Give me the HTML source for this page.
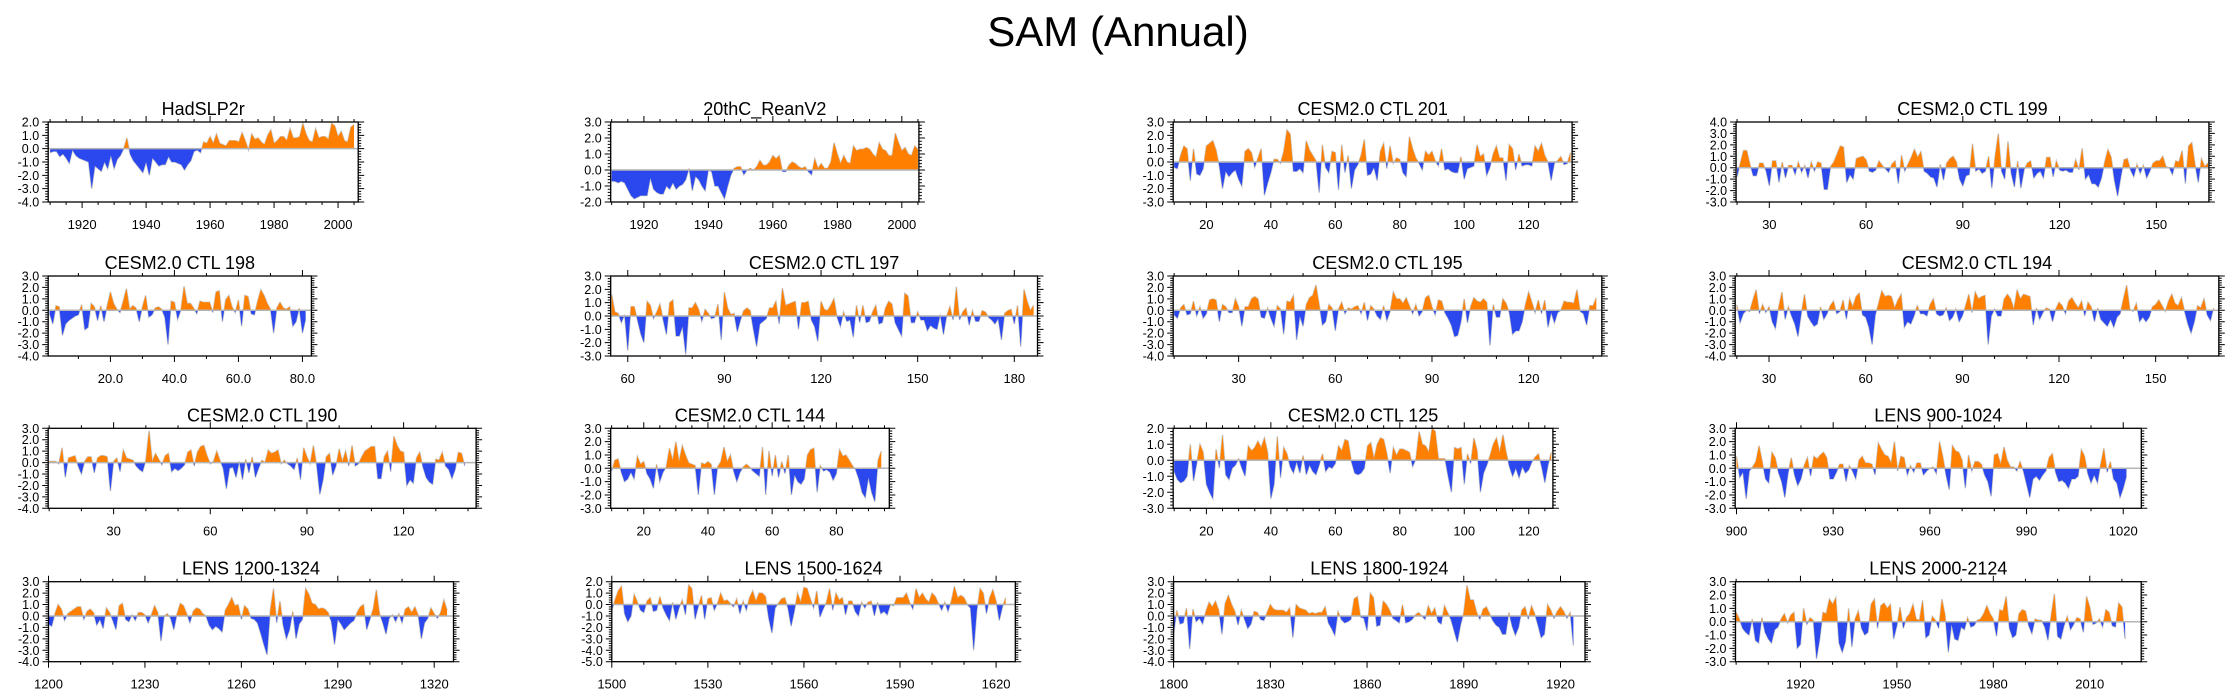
<!DOCTYPE html>
<html>
<head>
<meta charset="utf-8">
<style>
html,body{margin:0;padding:0;background:#fff;}
svg{display:block;font-family:"Liberation Sans",Arial,sans-serif;}
</style>
</head>
<body>
<svg id="fig" width="2237" height="698" viewBox="0 0 2237 698" xmlns="http://www.w3.org/2000/svg">
<rect width="2237" height="698" fill="#fff"/>
<text x="1118" y="46" font-size="42" text-anchor="middle" fill="#000">SAM (Annual)</text>
</svg>
<script>
// ---- data: start index + values per panel ----
const hadslpStart = 1910;
const hadslpValues = [-0.3,-0.2,-0.2,-0.6,-0.4,-0.7,-1.1,-0.1,-0.5,-0.7,-0.8,-0.9,-1.0,-3.0,-1.3,-1.5,-1.7,-1.0,-1.5,-0.5,-1.5,-0.8,-0.5,0.0,0.8,-0.4,-0.9,-1.2,-1.5,-1.8,-1.0,-2.0,-0.7,-1.0,-1.3,-1.2,-1.2,-0.6,-1.0,-1.0,-1.1,-1.2,-1.6,-1.2,-0.9,-0.2,-0.1,-0.3,0.5,0.4,0.9,0.4,1.1,0.4,0.3,0.2,0.6,0.6,0.6,0.5,1.2,0.6,-0.1,1.1,0.7,0.8,0.5,0.3,1.0,1.4,0.4,0.6,0.9,0.9,0.6,1.5,0.8,0.8,0.9,1.9,1.1,0.6,0.5,1.5,0.8,0.9,0.9,0.7,1.9,1.7,0.9,1.3,0.6,0.5,1.6,1.8];
const reanStart = 1910;
const reanValues = [-0.7,-0.7,-0.8,-0.7,-0.8,-1.2,-1.6,-1.8,-1.7,-1.6,-1.6,-1.6,-0.5,-1.2,-1.4,-1.5,-1.5,-1.0,-1.2,-0.8,-1.2,-1.0,-0.9,-0.6,0.1,-1.3,-0.4,-0.6,-1.0,-1.3,0.0,-0.1,-1.0,-1.0,-1.4,-1.8,-1.0,-0.3,0.1,0.2,0.2,-0.3,0.0,0.1,0.0,0.2,0.6,0.3,0.3,0.5,0.9,0.7,0.9,-0.1,-0.1,0.3,0.5,0.4,0.2,0.1,0.2,-0.1,-0.3,0.7,0.1,0.4,0.1,0.1,0.5,1.7,1.0,0.4,0.9,0.5,0.4,1.5,1.2,1.3,1.3,1.4,1.3,1.0,0.8,1.7,1.3,1.2,0.9,0.9,2.3,1.7,1.2,1.4,1.0,0.9,1.5,1.3];
const ctl201Start = 10;
const ctl201Values = [-0.4,-0.5,0.5,1.2,1.0,-1.4,1.0,-0.9,-1.0,-0.5,1.2,1.4,1.6,0.9,-0.3,-2.0,-0.7,-1.1,-0.8,-0.6,-1.3,-1.8,0.8,1.0,0.7,-0.4,0.3,1.0,-2.5,-1.6,-0.8,0.2,0.2,-0.1,0.8,2.4,2.1,-0.7,-0.7,-0.5,-0.8,1.6,0.9,0.5,0.1,-2.3,1.3,-0.4,-0.8,0.8,0.7,-2.1,1.3,-0.8,0.5,-2.0,-0.6,-0.2,0.5,1.7,-1.0,-0.9,-0.4,-1.4,0.8,1.4,-0.5,1.2,-0.1,0.3,0.2,-0.8,-1.1,1.9,1.0,0.3,-0.1,-0.6,0.8,0.5,0.8,0.1,-0.3,1.0,-0.6,-0.5,-0.7,-0.8,-0.8,0.4,-1.3,-0.5,-0.4,-0.3,1.3,0.4,0.6,-1.0,-0.4,0.6,1.2,0.3,0.3,-1.4,1.3,1.0,-0.6,0.6,-0.3,-0.2,-0.2,-0.3,1.2,0.8,1.4,0.5,0.0,-1.4,-0.1,0.1,0.4,-0.2,-0.1,0.7];
const ctl199Start = 20;
const ctl199Values = [-0.8,0.4,1.5,1.5,0.3,-0.7,-0.7,0.4,0.4,-0.3,-1.6,0.6,0.6,-1.3,0.5,-0.9,0.2,0.2,-0.6,0.5,-0.4,0.2,-0.9,0.5,-0.3,0.5,0.4,-1.9,-1.9,0.1,0.5,1.2,1.9,1.8,-1.3,-0.6,-1.0,0.8,0.9,1.0,0.7,-0.3,-0.4,-0.2,0.6,0.2,-0.1,-0.4,0.3,0.6,-1.4,1.1,-0.3,0.3,0.9,1.6,0.9,1.4,-0.3,-0.5,-0.8,-0.9,-1.7,0.3,-1.1,0.4,0.8,1.0,0.5,-1.0,-1.6,-0.7,-0.6,2.1,-0.3,-0.1,-0.5,-0.3,1.0,-1.8,1.0,3.0,-0.3,-1.0,2.3,-0.5,-1.7,0.6,-1.8,-0.2,0.4,0.6,-0.9,-0.5,-0.3,-0.9,0.9,0.9,-0.8,0.6,-0.2,-0.3,-0.2,-0.4,-0.4,0.7,-0.2,1.7,-1.0,-0.6,-1.4,-1.4,-1.7,-0.9,0.5,1.6,0.9,-1.1,-2.5,-0.8,0.7,0.8,-0.2,-0.8,0.3,-0.5,0.2,-0.9,-0.3,0.4,0.6,0.6,1.0,0.1,0.0,-0.6,0.6,0.5,1.5,-1.4,1.9,2.2,0.3,-1.3,0.8,0.1,0.4];
const ctl198Start = 1;
const ctl198Values = [-0.3,-1.2,0.4,0.3,-2.2,-1.2,-0.9,-0.7,-0.5,-0.4,0.5,-1.7,-1.5,0.6,0.3,-0.9,0.4,-1.0,0.4,1.6,0.6,0.1,-0.2,0.8,1.9,0.1,0.4,0.2,-1.0,0.3,1.3,-0.6,-0.4,0.2,0.3,0.1,-0.6,-3.0,0.8,0.7,-0.8,0.0,2.1,0.6,0.6,0.2,-0.3,0.8,0.7,0.7,0.7,-0.2,1.6,1.7,-1.0,0.9,1.3,0.3,-0.2,0.9,-1.4,1.3,1.2,-0.3,-0.4,0.8,1.8,1.3,0.6,0.1,-2.0,0.2,0.7,0.2,0.1,0.3,-1.4,-1.0,0.2,-2.0,-0.8];
const ctl197Start = 55;
const ctl197Values = [1.6,0.3,0.2,-0.5,0.1,-2.6,0.7,0.7,-0.3,-1.3,-2.0,1.1,0.8,-0.2,0.3,0.9,-0.3,-1.4,1.0,1.2,-1.5,-1.5,-0.8,-2.9,0.6,0.6,1.0,0.5,-0.4,0.5,0.2,-0.2,-0.1,0.9,-1.8,1.8,0.6,0.1,0.2,-1.2,-0.3,0.4,0.6,0.4,-1.0,-2.3,-0.6,-0.4,-0.2,0.6,0.6,1.1,-0.6,2.1,0.8,0.9,1.0,1.1,-1.0,1.0,1.0,1.1,-0.3,-0.8,-1.9,1.1,0.5,0.4,0.8,1.3,-0.1,-0.8,0.3,-0.4,-0.3,-1.6,0.8,-0.5,0.8,-0.5,-0.4,0.3,0.8,-0.6,-0.5,0.6,1.1,0.9,-0.5,-1.0,-1.5,1.7,1.5,-0.5,-0.5,0.3,-0.3,-0.3,-1.1,-0.7,-0.9,-1.0,0.1,-1.4,0.0,0.7,-0.3,2.2,-0.3,0.3,0.6,-0.7,0.4,-0.4,-0.4,0.4,0.3,-0.1,-0.3,-0.6,-0.2,-1.8,0.2,0.4,0.5,-0.6,0.8,-2.3,2.0,1.1,0.4,0.8];
const ctl195Start = 10;
const ctl195Values = [-0.4,-0.7,0.2,0.5,-0.4,-0.3,0.8,-0.5,0.3,-0.7,-0.3,0.9,1.0,0.9,-1.0,0.5,0.3,-0.2,-0.2,1.0,0.3,-1.4,0.3,0.3,1.0,1.2,1.0,-0.6,-0.7,0.2,-0.7,-1.4,0.4,0.1,-2.1,0.8,0.7,1.3,-2.6,-0.5,-1.4,0.5,1.1,1.3,2.2,0.5,-1.3,-1.0,0.5,0.2,-1.8,0.1,0.7,-0.3,0.2,0.1,0.3,0.4,-0.3,0.7,-0.9,0.4,0.1,-0.5,-0.8,0.4,-0.9,-0.1,1.6,1.0,1.0,0.6,1.1,0.4,-0.3,0.5,-0.5,-0.1,1.1,1.3,0.3,-0.4,0.9,0.8,-0.2,-0.7,-1.3,-2.3,-2.2,-1.0,1.0,-1.1,0.3,1.1,0.8,0.7,1.0,0.7,-3.1,0.5,-0.6,-0.6,1.0,0.6,-0.2,-2.1,-1.8,-1.8,-1.0,0.5,1.6,0.7,-0.2,0.9,-0.3,0.9,-1.5,-0.2,-1.1,-0.2,0.0,0.8,0.7,0.7,0.6,1.8,-0.1,-0.3,-1.3,0.4,0.4,1.1];
const ctl194Start = 20;
const ctl194Values = [0.5,-1.1,-0.3,0.0,-0.1,0.9,1.8,-0.3,0.5,-0.2,0.3,-1.0,-1.6,0.3,1.6,-0.8,0.3,-0.5,-1.2,-2.3,-0.3,1.4,-0.5,-1.0,-1.4,-1.2,0.3,-0.8,-0.3,0.4,0.8,-0.3,-0.1,0.9,-0.8,1.0,0.3,1.2,1.5,-0.4,-0.6,-1.5,-3.0,-0.4,0.6,1.7,1.2,1.3,1.2,0.2,0.9,1.4,-1.5,-1.0,-1.2,-0.5,0.4,-0.3,-0.3,-0.5,0.5,1.0,-0.3,-0.5,-0.4,0.2,-0.9,-0.6,0.1,-1.0,-0.5,0.4,1.4,-0.2,1.6,1.0,1.2,1.3,-3.0,-0.5,0.1,-0.5,-0.5,1.0,1.4,1.0,0.1,1.8,1.0,1.4,1.3,1.2,-1.3,0.2,-0.8,-0.2,0.2,0.1,-1.0,0.1,0.7,0.4,-0.3,0.8,1.1,0.6,0.2,0.8,-0.5,0.7,0.3,-1.0,0.2,-0.8,-1.1,-1.4,-0.8,-1.5,-0.6,-0.3,1.0,2.2,0.1,-0.1,0.6,-1.0,-0.6,-1.0,-0.6,0.3,0.5,0.9,0.4,-0.1,0.8,1.4,0.6,0.4,1.1,-0.1,-1.2,-2.0,-1.0,0.4,0.2,1.0,-0.4,-0.9,0.2];
const ctl190Start = 10;
const ctl190Values = [0.1,0.1,0.1,-0.1,1.3,-1.3,0.4,0.5,0.6,-0.3,-1.0,0.1,0.5,0.5,-0.9,0.4,0.6,0.6,0.5,-2.5,0.1,0.4,-0.8,1.1,0.4,0.3,0.2,-0.3,-0.6,-0.8,0.2,2.8,0.1,0.8,0.3,-0.2,0.6,0.8,-0.8,-0.5,-0.7,-0.5,-0.2,0.9,1.1,-0.3,0.9,1.4,1.5,0.6,-0.1,0.1,1.0,0.2,-0.5,-2.3,-0.5,-0.4,-1.3,0.1,-1.5,0.3,-0.9,0.5,-1.3,-0.5,0.2,0.0,1.1,0.8,0.9,1.1,-0.1,0.2,-0.1,-0.3,-0.6,0.4,-1.5,1.3,0.5,-0.1,1.5,-0.2,-2.8,-1.5,0.5,0.8,-1.1,-0.3,1.2,0.1,1.0,-0.3,1.5,-0.3,-0.1,0.5,1.0,1.2,1.4,1.4,-1.4,-1.4,0.5,1.0,-0.8,2.3,1.5,1.0,0.9,-2.0,-1.5,-1.8,0.4,0.9,-0.4,-1.3,-1.7,-1.9,0.3,0.2,0.9,-0.3,-0.6,-1.4,-0.6,0.9,0.8,-0.3];
const ctl144Start = 10;
const ctl144Values = [-0.2,0.6,0.7,-0.3,-1.0,-0.8,-0.3,-0.8,0.9,0.3,0.5,-0.4,-0.8,-1.5,0.3,-1.0,-0.3,0.1,1.5,0.6,2.0,0.5,1.7,1.0,0.4,0.3,0.2,-2.0,0.4,0.3,0.5,0.3,-2.0,0.1,0.5,1.6,0.5,1.0,-0.2,-1.0,-0.3,0.1,0.3,0.1,-0.2,-0.4,-0.6,1.6,-2.0,1.3,-0.6,1.0,-0.7,0.5,-0.4,1.0,-2.0,-0.5,-1.0,-1.2,-0.8,1.0,1.4,1.5,-1.8,0.2,-0.2,-0.1,-0.3,-0.9,-0.4,1.4,0.9,1.0,0.6,0.2,-0.1,-0.8,-1.8,-2.2,-0.7,-1.8,-2.5,0.6,1.3];
const ctl125Start = 10;
const ctl125Values = [-0.7,-1.2,-1.4,-1.3,-1.0,1.0,-1.3,-0.2,1.0,0.5,-1.5,-2.0,-2.4,0.7,-0.5,1.6,-0.9,-1.2,-0.5,-0.3,0.1,-0.5,-1.0,0.9,0.6,0.8,1.2,0.8,1.4,0.5,-2.4,-1.5,1.5,-1.1,0.8,0.4,-0.4,-0.8,-0.1,-0.8,0.3,-0.9,-0.3,-0.7,-0.9,-0.3,0.4,-0.7,-0.4,-0.5,-0.2,0.9,0.6,1.3,1.2,-0.1,-0.8,-0.9,-0.8,-0.5,0.9,1.1,0.1,1.0,1.4,1.3,0.4,-0.8,0.8,0.3,0.7,0.7,0.6,0.5,-0.4,0.1,1.8,1.0,0.9,0.5,2.0,1.8,0.1,0.1,0.1,-1.0,-2.0,0.8,0.7,0.8,-1.5,0.4,-0.2,1.4,0.6,-2.0,-0.8,-0.3,0.3,1.0,1.4,0.5,1.6,0.5,-0.4,-1.0,-0.5,-1.1,-0.4,-0.8,-0.6,-0.1,0.2,0.4,-0.4,-1.4,-0.3,0.5];
const lens900Start = 900;
const lens900Values = [0.9,-0.7,-0.3,-2.3,-0.2,0.1,0.5,1.7,0.5,-0.8,-1.1,1.2,0.8,-0.3,-1.0,-2.2,-0.4,0.8,-0.5,-1.3,-0.8,0.2,0.8,-0.6,0.9,0.7,1.0,1.2,0.8,-0.8,-0.8,-0.3,0.3,0.3,-1.0,0.2,-0.2,-0.8,0.6,0.9,0.4,0.4,0.3,-0.5,1.9,1.4,1.0,0.9,0.4,2.0,-0.2,0.9,0.8,-0.5,0.2,-0.3,0.4,0.4,-0.5,-0.2,0.0,0.1,-0.4,2.0,0.9,-0.5,-1.6,1.7,1.3,1.2,0.6,-1.5,1.0,-0.2,0.5,0.5,0.3,-0.5,-1.0,-2.1,1.0,1.1,0.3,1.6,0.6,0.1,0.1,-0.2,0.5,-0.2,-1.2,-2.2,-0.8,-0.6,-0.9,-0.5,-0.2,0.8,1.1,-0.3,-1.0,-0.9,-1.1,-1.5,-0.8,-0.8,-0.6,1.4,0.9,-0.4,-1.1,-0.5,-1.1,0.3,1.5,-0.3,0.5,-0.8,-1.1,-2.2,-1.5,-0.6];
const lens1200Start = 1200;
const lens1200Values = [-0.7,-0.9,0.2,1.0,0.6,-0.4,0.2,0.4,0.6,0.8,0.8,-0.3,0.4,0.6,0.3,-0.8,-0.3,-1.1,0.7,0.3,-0.4,-1.2,0.9,1.1,-0.3,-0.5,0.1,-0.4,0.3,0.3,0.1,-0.6,0.1,0.9,0.3,-2.2,0.0,0.2,-0.2,-1.2,0.2,1.1,0.9,0.2,-0.6,0.4,0.7,0.6,0.2,0.0,-0.8,-1.2,-0.9,-1.1,-1.4,0.5,1.0,1.6,0.9,1.0,-0.3,0.9,0.6,-0.2,-0.3,-0.6,-1.5,-2.5,-3.4,0.5,2.4,-0.6,1.3,-0.8,-2.0,-1.2,0.4,-2.0,-0.7,-0.3,2.4,1.9,1.1,1.0,0.6,0.7,0.6,0.3,-0.5,-2.5,-0.3,-0.7,-1.2,-0.9,-0.6,-0.4,0.3,0.8,1.0,-1.2,-0.3,0.6,2.3,0.2,-0.6,-1.6,-0.2,0.1,-0.5,0.2,-0.6,0.6,0.8,0.3,0.8,0.1,-2.0,-0.6,-0.2,0.7,0.2,-0.2,0.3,1.4,0.5];
const lens1500Start = 1500;
const lens1500Values = [-0.5,0.4,1.2,1.6,-0.8,-1.5,-1.0,0.9,0.2,-0.5,-0.7,0.3,0.6,-0.6,-0.5,0.7,-0.3,-0.9,-1.4,0.2,-1.3,-0.3,0.4,-0.9,1.7,1.4,-1.3,-0.2,0.8,-1.3,0.5,0.6,-0.5,0.1,1.0,0.3,0.4,0.1,-0.2,0.5,-0.8,0.3,-0.5,0.6,1.2,0.3,1.0,1.0,0.7,-1.2,-2.5,-0.3,0.1,0.5,0.6,-0.3,-1.9,-0.6,1.0,0.2,1.5,1.4,0.5,-0.3,1.2,-1.1,-0.4,0.2,1.4,-0.5,1.0,0.4,0.6,-0.9,0.3,0.3,-0.6,-1.0,0.2,-0.3,0.2,0.3,-1.0,0.2,-0.8,-0.6,-0.9,0.0,-0.1,0.6,0.6,0.6,1.0,0.2,-0.4,1.4,0.6,1.0,0.5,0.2,1.0,0.7,0.1,-0.5,0.2,-0.6,0.3,1.6,0.6,0.8,0.6,0.0,-0.3,-4.0,-0.5,1.4,1.0,-0.8,0.6,1.3,0.3,-1.4,-0.2,0.6];
const lens1800Start = 1800;
const lens1800Values = [-1.6,0.5,-0.7,-0.6,0.7,-2.9,0.6,-0.5,-0.2,-0.7,0.4,1.2,0.8,1.3,0.5,-1.6,1.1,1.8,1.0,0.4,-0.8,0.5,-0.3,-1.1,-0.7,0.4,0.3,-0.3,-0.4,0.3,1.0,0.6,0.5,0.5,0.5,0.3,0.7,-1.9,1.0,0.7,0.6,0.5,0.2,0.3,0.2,0.3,0.3,0.8,-0.6,-1.1,-1.7,0.4,-0.3,-0.6,-0.5,-0.3,1.5,1.7,-0.1,-0.2,-1.3,2.0,1.6,-0.9,-0.8,1.3,1.0,0.5,-0.2,-0.4,-0.6,1.0,-0.6,-0.5,-0.3,0.1,0.3,0.0,-0.3,0.9,0.2,0.7,-0.5,-0.7,0.9,0.3,-0.3,-1.3,-2.3,-0.8,0.3,2.7,1.4,1.4,0.3,-0.3,0.6,0.8,0.2,-0.4,-0.8,-1.0,-1.6,-1.6,0.3,-0.9,-1.7,-1.0,0.5,0.8,-0.3,0.9,0.2,-0.8,-1.9,-1.6,1.0,0.5,-0.2,0.4,0.8,0.4,-0.2,0.3,-2.6];
const lens2000Start = 1900;
const lens2000Values = [0.7,0.2,-0.5,-0.8,-1.0,0.2,-1.4,-1.6,0.3,-0.8,-1.3,-1.6,-0.6,-0.4,0.2,0.6,-0.1,0.5,0.7,-2.0,-1.7,1.0,-0.2,0.3,0.1,-2.8,-1.3,0.7,0.6,1.7,1.3,1.8,-1.6,-2.3,-1.5,1.0,-1.9,0.2,0.8,-0.5,-1.0,-0.8,1.3,1.7,-0.5,1.2,1.4,1.0,1.3,-1.3,-0.3,1.1,-0.5,0.3,0.6,1.3,0.2,0.1,1.6,-1.2,-1.0,0.4,0.1,-0.5,1.7,0.5,-2.3,-0.2,-1.3,-1.4,-0.4,-0.6,0.3,-0.4,-0.3,0.1,0.2,0.6,1.2,0.6,0.2,-1.1,0.9,0.8,1.9,-0.5,-1.2,-1.0,0.6,0.9,0.8,-0.3,-0.9,0.2,0.1,0.1,-0.4,-1.4,0.5,2.1,-1.1,-1.3,-0.3,0.4,-0.6,-0.2,0.3,0.2,-0.8,1.9,1.1,-0.2,-0.1,0.2,-0.4,0.9,0.7,-0.3,-0.4,1.4,1.1,-1.3];

const panelTitles = ["HadSLP2r","20thC_ReanV2","CESM2.0 CTL 201","CESM2.0 CTL 199","CESM2.0 CTL 198","CESM2.0 CTL 197","CESM2.0 CTL 195","CESM2.0 CTL 194","CESM2.0 CTL 190","CESM2.0 CTL 144","CESM2.0 CTL 125","LENS 900-1024","LENS 1200-1324","LENS 1500-1624","LENS 1800-1924","LENS 2000-2124"];
const panelStarts = [hadslpStart,reanStart,ctl201Start,ctl199Start,ctl198Start,ctl197Start,ctl195Start,ctl194Start,ctl190Start,ctl144Start,ctl125Start,lens900Start,lens1200Start,lens1500Start,lens1800Start,lens2000Start];
const panelSeries = [hadslpValues,reanValues,ctl201Values,ctl199Values,ctl198Values,ctl197Values,ctl195Values,ctl194Values,ctl190Values,ctl144Values,ctl125Values,lens900Values,lens1200Values,lens1500Values,lens1800Values,lens2000Values];
const panelXDomains = [[1909.4,2006.3],[1909.7,2005.3],[9.7,133.5],[19.7,166.3],[0.56,82.8],[54.7,187.2],[9.7,142.7],[19.5,169.6],[9.7,142.5],[9.7,96.5],[9.7,127.5],[899.6,1025.6],[1200,1326],[1500,1626],[1800,1927.6],[1899.8,2026]];
const panelYDomains = [[-4,2],[-2,3],[-3,3],[-3,4],[-4,3],[-3,3],[-4,3],[-4,3],[-4,3],[-3,3],[-3,2],[-3,3],[-4,3],[-5,2],[-4,3],[-3,3]];
const panelXTickLabels = [["1920","1940","1960","1980","2000"],["1920","1940","1960","1980","2000"],["20","40","60","80","100","120"],["30","60","90","120","150"],["20.0","40.0","60.0","80.0"],["60","90","120","150","180"],["30","60","90","120"],["30","60","90","120","150"],["30","60","90","120"],["20","40","60","80"],["20","40","60","80","100","120"],["900","930","960","990","1020"],["1200","1230","1260","1290","1320"],["1500","1530","1560","1590","1620"],["1800","1830","1860","1890","1920"],["1920","1950","1980","2010"]];
const panelMinorStep = [5,5,5,10,10,10,10,10,10,5,5,10,10,10,10,10];

// ---- layout (pixel frames) ----
const frameLeft = [48.2,610.7,1173.2,1736.1,48.2,610.7,1173.2,1735.2,48.2,610.7,1173.2,1735.2,48.5,611.8,1173.6,1735.5];
const frameRight = [358.2,918.9,1572.1,2208.9,311.4,1037.5,1601.8,2218.8,476.1,889.3,1552.9,2141.3,453.5,1015.3,1585,2141.2];
const rowTop = [122,276,428.3,581.7];
const frameH = 80;

const NS = "http://www.w3.org/2000/svg";
const svg = document.getElementById("fig");
function mk(tag, attrs, parent){
  const e = document.createElementNS(NS, tag);
  for (const k in attrs) e.setAttribute(k, attrs[k]);
  parent.appendChild(e);
  return e;
}
const ORANGE = "#ff8000", BLUE = "#2b48ee";

for (let p = 0; p < 16; p++){
  const L = frameLeft[p], R = frameRight[p], T = rowTop[Math.floor(p/4)], B = T + frameH;
  const [x0,x1] = panelXDomains[p], [y0,y1] = panelYDomains[p];
  const sx = v => L + (v - x0) / (x1 - x0) * (R - L);
  const sy = v => B - (v - y0) / (y1 - y0) * (B - T);
  const g = mk("g", {}, svg);
  
  

  // title
  const t = mk("text", {x:(L+R)/2, y:T-7, "font-size":18, "text-anchor":"middle", fill:"#000"}, g);
  t.textContent = panelTitles[p];
  
  

  // series
  const vals = panelSeries[p], st = panelStarts[p];
  const y0px = sy(0);
  let d = "M" + sx(st).toFixed(2) + "," + y0px.toFixed(2);
  let line = "";
  vals.forEach((v,i) => {
    const px = sx(st+i).toFixed(2), py = sy(v).toFixed(2);
    d += " L" + px + "," + py;
    line += (i ? " L" : "M") + px + "," + py;
  });
  d += " L" + sx(st+vals.length-1).toFixed(2) + "," + y0px.toFixed(2) + " Z";
  const cid = "clp" + p;
  const defs = mk("defs", {}, g);
  const cpA = mk("clipPath", {id:cid+"a"}, defs);
  mk("rect", {x:L, y:T, width:R-L, height:y0px-T}, cpA);
  const cpB = mk("clipPath", {id:cid+"b"}, defs);
  mk("rect", {x:L, y:y0px, width:R-L, height:B-y0px}, cpB);
  const gl = mk("path", {d:line, fill:"none", stroke:"#c8c8c8", "stroke-width":1.4}, g);
  
  
  const pos = mk("path", {d:d, fill:ORANGE, "clip-path":"url(#"+cid+"a)"}, g);
  
  
  const neg = mk("path", {d:d, fill:BLUE, "clip-path":"url(#"+cid+"b)"}, g);
  
  
  const zl = mk("line", {x1:L, x2:R, y1:y0px, y2:y0px, stroke:"#b4b4b4", "stroke-width":1.5}, g);
  
  

  // frame
  const fr = mk("rect", {x:L, y:T, width:R-L, height:B-T, fill:"none", stroke:"#000", "stroke-width":1.3}, g);
  
  

  // y ticks & labels
  let tk = "";
  for (let v = y0; v <= y1 + 1e-6; v += 0.2){
    const vv = Math.round(v*10)/10;
    const major = Math.abs(vv - Math.round(vv)) < 1e-6;
    const yy = sy(vv).toFixed(2), len = major ? 6 : 3;
    tk += "M"+L+","+yy+" h-"+len+" M"+R+","+yy+" h"+len+" ";
    if (major){
      const yl = mk("text", {x:L-9, y:(+yy)+4.5, "font-size":12.5, "text-anchor":"end", fill:"#000"}, g);
      yl.textContent = vv.toFixed(1);
      
      
    }
  }
  // x ticks
  const labs = panelXTickLabels[p];
  const majors = labs.map(s => parseFloat(s));
  const majorStep = majors[1] - majors[0];
  const mstep = panelMinorStep[p];
  const startTick = Math.ceil(x0 / mstep) * mstep;
  for (let v = startTick; v <= x1 + 1e-6; v += mstep){
    const isMajor = Math.abs(((v - majors[0]) % majorStep + majorStep) % majorStep) < 1e-6;
    const xx = sx(v).toFixed(2), len = isMajor ? 6 : 3;
    tk += "M"+xx+","+B+" v"+len+" M"+xx+","+T+" v-"+len+" ";
  }
  const tp = mk("path", {d:tk, stroke:"#000", "stroke-width":1, fill:"none"}, g);
  
  
  labs.forEach(s => {
    const xl = mk("text", {x:sx(parseFloat(s)), y:B+27, "font-size":13, "text-anchor":"middle", fill:"#000"}, g);
    xl.textContent = s;
    
    
  });
}
</script>
</body>
</html>
